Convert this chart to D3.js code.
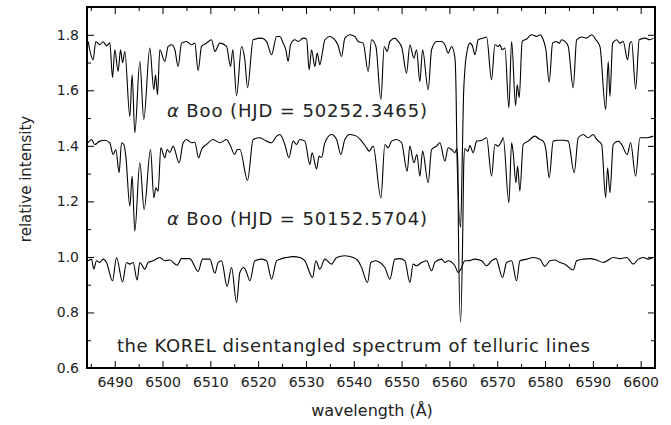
<!DOCTYPE html>
<html>
<head>
<meta charset="utf-8">
<script src="https://cdn.jsdelivr.net/npm/d3@7"></script>
<style>
body{margin:0;background:#fff;}
text{font-family:"DejaVu Sans",sans-serif;fill:#222;}
</style>
</head>
<body>
<div id="chart"></div>
<script>
//DATA (wavelength in A, relative intensity)

//alpha Boo, HJD 50252.3465 (upper spectrum, shifted up)
var booSpectrum50252 = [
[6484.43,1.776],[6485.48,1.710],[6486.04,1.776],[6486.88,1.764],[6487.57,1.775],[6488.28,1.760],[6488.97,1.771],[6489.54,1.646],[6490.02,1.746],[6490.71,1.668],
[6491.21,1.746],[6491.63,1.699],[6492.11,1.740],[6493.16,1.506],[6493.64,1.656],[6494.20,1.447],[6495.25,1.704],[6496.08,1.495],[6497.34,1.752],[6498.18,1.602],
[6498.53,1.656],[6498.95,1.584],[6499.43,1.746],[6500.48,1.704],[6501.17,1.758],[6501.94,1.764],[6502.57,1.746],[6503.26,1.686],[6503.97,1.770],[6505.02,1.776],
[6506.06,1.764],[6506.75,1.770],[6507.44,1.671],[6508.16,1.758],[6509.20,1.770],[6510.25,1.782],[6510.94,1.740],[6511.98,1.770],[6513.39,1.758],[6514.22,1.686],
[6514.70,1.746],[6515.48,1.581],[6516.52,1.758],[6517.21,1.710],[6517.78,1.609],[6518.95,1.782],[6520.71,1.788],[6521.75,1.776],[6522.80,1.728],[6523.85,1.794],
[6524.54,1.794],[6525.23,1.770],[6525.79,1.746],[6526.27,1.704],[6526.77,1.764],[6527.67,1.782],[6528.36,1.776],[6529.41,1.788],[6530.12,1.785],[6530.67,1.674],
[6531.17,1.746],[6531.86,1.686],[6532.34,1.734],[6532.90,1.692],[6533.47,1.740],[6533.95,1.782],[6535.00,1.794],[6535.69,1.788],[6536.67,1.764],[6537.44,1.722],
[6538.13,1.788],[6539.18,1.800],[6540.23,1.794],[6540.92,1.776],[6541.96,1.770],[6543.01,1.668],[6543.72,1.782],[6544.62,1.758],[6545.67,1.567],[6546.36,1.758],
[6546.98,1.740],[6547.55,1.776],[6548.59,1.788],[6549.28,1.776],[6550.06,1.753],[6551.04,1.662],[6551.73,1.764],[6552.57,1.716],[6553.13,1.746],[6553.82,1.632],
[6554.39,1.746],[6555.56,1.602],[6556.27,1.746],[6557.32,1.776],[6558.36,1.776],[6559.05,1.764],[6559.74,1.734],[6560.46,1.758],[6561.15,1.717],[6561.42,1.567],
[6561.56,1.387],[6562.34,1.107],[6562.72,1.387],[6562.93,1.567],[6563.24,1.674],[6563.76,1.746],[6564.28,1.770],[6564.85,1.758],[6565.33,1.728],[6566.02,1.782],
[6567.07,1.788],[6567.78,1.792],[6568.82,1.638],[6569.51,1.764],[6570.20,1.758],[6570.56,1.764],[6571.04,1.746],[6571.61,1.752],[6572.44,1.537],[6573.01,1.776],
[6573.84,1.545],[6574.18,1.620],[6574.60,1.573],[6575.22,1.776],[6576.15,1.785],[6577.19,1.800],[6578.24,1.794],[6578.93,1.800],[6579.62,1.782],[6580.18,1.746],
[6580.87,1.629],[6581.58,1.770],[6582.28,1.776],[6582.97,1.770],[6583.47,1.782],[6584.16,1.776],[6584.85,1.758],[6585.89,1.609],[6586.61,1.782],[6587.65,1.792],
[6588.70,1.788],[6589.74,1.800],[6590.64,1.782],[6591.48,1.758],[6592.67,1.531],[6593.22,1.704],[6593.57,1.578],[6594.14,1.770],[6594.97,1.782],[6595.66,1.770],
[6596.35,1.776],[6597.27,1.710],[6597.76,1.770],[6598.11,1.776],[6598.95,1.605],[6599.70,1.782],[6600.89,1.788],[6601.94,1.782],[6602.63,1.788]
];

//alpha Boo, HJD 50152.5704 (middle spectrum)
var booSpectrum50152 = [
[6484.43,1.411],[6485.14,1.423],[6485.83,1.405],[6486.88,1.417],[6487.93,1.420],[6488.97,1.411],[6489.66,1.369],[6490.23,1.387],[6490.92,1.303],[6491.42,1.411],
[6491.90,1.405],[6492.32,1.363],[6493.16,1.183],[6493.64,1.291],[6494.20,1.093],[6495.25,1.339],[6496.15,1.171],[6497.49,1.387],[6498.18,1.213],[6498.60,1.249],
[6499.08,1.237],[6499.64,1.393],[6500.48,1.357],[6500.96,1.387],[6501.52,1.376],[6502.21,1.399],[6503.47,1.339],[6504.31,1.411],[6505.02,1.423],[6506.06,1.411],
[6506.75,1.413],[6507.53,1.357],[6508.16,1.387],[6509.20,1.405],[6510.58,1.423],[6511.98,1.411],[6513.39,1.423],[6514.08,1.405],[6515.12,1.369],[6515.60,1.387],
[6516.17,1.387],[6517.78,1.276],[6518.95,1.423],[6520.35,1.429],[6521.75,1.417],[6522.80,1.411],[6523.85,1.435],[6524.54,1.441],[6525.58,1.405],[6526.42,1.357],
[6527.32,1.417],[6528.03,1.405],[6528.72,1.423],[6529.77,1.417],[6530.81,1.333],[6531.29,1.375],[6532.21,1.317],[6532.76,1.363],[6533.26,1.358],[6533.95,1.411],
[6535.35,1.441],[6536.40,1.423],[6537.30,1.369],[6538.13,1.423],[6539.18,1.441],[6540.58,1.435],[6541.63,1.417],[6542.67,1.393],[6543.22,1.381],[6544.05,1.399],
[6545.67,1.213],[6546.50,1.405],[6547.19,1.393],[6547.90,1.417],[6548.95,1.423],[6550.00,1.411],[6551.17,1.309],[6551.73,1.399],[6552.57,1.339],[6553.20,1.369],
[6553.82,1.291],[6554.39,1.381],[6555.56,1.267],[6556.27,1.387],[6557.32,1.399],[6558.01,1.411],[6559.05,1.345],[6559.74,1.393],[6560.46,1.387],[6561.15,1.375],
[6561.56,1.390],[6561.77,1.330],[6561.88,1.100],[6562.34,0.765],[6562.80,1.100],[6562.99,1.330],[6563.24,1.390],[6563.87,1.380],[6564.28,1.401],[6564.97,1.375],
[6565.69,1.417],[6566.73,1.420],[6567.78,1.429],[6568.82,1.291],[6569.51,1.405],[6570.20,1.399],[6570.92,1.417],[6571.25,1.429],[6572.44,1.195],[6573.01,1.411],
[6573.34,1.375],[6573.91,1.267],[6574.26,1.327],[6574.74,1.237],[6575.43,1.405],[6576.48,1.417],[6577.88,1.435],[6578.93,1.423],[6579.62,1.417],[6580.18,1.387],
[6580.87,1.285],[6581.71,1.417],[6582.76,1.420],[6583.80,1.420],[6584.85,1.417],[6586.10,1.303],[6586.94,1.429],[6587.99,1.441],[6589.03,1.429],[6590.08,1.441],
[6590.79,1.423],[6591.84,1.405],[6592.67,1.213],[6593.09,1.321],[6593.57,1.231],[6594.26,1.405],[6595.31,1.417],[6596.02,1.405],[6597.19,1.369],[6597.90,1.411],
[6598.95,1.291],[6599.85,1.429],[6601.25,1.429],[6602.63,1.435]
];

//KOREL disentangled telluric spectrum (lower)
var tellurics = [
[6484.43,0.986],[6485.14,0.992],[6485.62,0.956],[6486.19,0.986],[6486.88,0.980],[6487.57,0.992],[6488.28,0.980],[6489.54,0.914],[6490.37,0.998],[6491.63,0.910],
[6492.47,0.980],[6493.16,0.974],[6493.85,0.980],[6494.68,0.917],[6495.25,0.980],[6496.29,0.956],[6496.98,0.980],[6498.03,0.986],[6499.43,0.998],[6500.48,0.986],
[6501.52,0.989],[6503.05,0.970],[6503.97,0.994],[6505.71,0.994],[6507.44,0.948],[6508.36,0.992],[6509.89,0.992],[6510.94,0.941],[6511.63,0.980],[6512.34,0.986],
[6513.51,0.894],[6514.43,0.962],[6515.48,0.836],[6516.17,0.944],[6517.00,0.962],[6517.57,0.944],[6518.26,0.914],[6519.31,0.986],[6520.71,0.992],[6521.75,0.986],
[6522.80,0.920],[6523.85,0.986],[6524.54,0.992],[6525.94,0.998],[6527.32,1.001],[6528.72,0.998],[6529.77,0.986],[6531.38,0.926],[6532.07,0.986],[6532.90,0.956],
[6533.95,0.992],[6535.35,0.974],[6536.40,0.998],[6538.13,1.004],[6539.87,0.998],[6540.92,0.986],[6541.63,0.962],[6542.88,0.908],[6543.57,0.980],[6544.62,0.986],
[6545.46,0.980],[6546.50,0.962],[6547.55,0.920],[6548.59,0.992],[6549.64,0.994],[6550.69,0.986],[6551.73,0.908],[6552.42,0.974],[6553.13,0.968],[6554.18,0.980],
[6555.23,0.986],[6556.27,0.950],[6556.96,0.980],[6558.36,0.992],[6559.05,0.980],[6559.74,0.986],[6561.15,0.968],[6561.84,0.944],[6562.40,0.956],[6563.24,0.986],
[6563.93,0.986],[6565.33,0.992],[6566.73,0.986],[6567.78,0.968],[6568.82,0.986],[6569.72,0.994],[6571.12,0.926],[6571.96,0.980],[6573.01,0.986],[6574.05,0.914],
[6574.74,0.986],[6576.15,0.992],[6577.53,0.998],[6578.93,0.992],[6579.97,0.966],[6581.02,0.986],[6582.07,0.989],[6583.11,0.980],[6584.16,0.974],[6585.89,0.953],
[6586.61,0.986],[6587.99,0.992],[6589.39,0.994],[6590.79,0.989],[6592.17,0.980],[6593.22,0.989],[6594.26,0.998],[6595.66,0.994],[6597.07,0.998],[6598.45,0.974],
[6599.49,0.992],[6600.54,0.998],[6601.58,0.992],[6602.63,0.998]
];

var xTickLabels = [6490,6500,6510,6520,6530,6540,6550,6560,6570,6580,6590,6600];
var xMinorTicks = [6485,6495,6505,6515,6525,6535,6545,6555,6565,6575,6585,6595];
var yTickLabels = [0.6,0.8,1.0,1.2,1.4,1.6,1.8];
var yMinorTicks = [0.7,0.9,1.1,1.3,1.5,1.7];

var spectrumNames = ['Boo (HJD = 50252.3465)','Boo (HJD = 50152.5704)','the KOREL disentangled spectrum of telluric lines'];

//LAYOUT
var width = 671, height = 425;
var margin = {left:87, right:16, top:7, bottom:57};

var svg = d3.select('#chart').append('svg')
.attr('width', width)
.attr('height', height);

var x = d3.scaleLinear()
.domain([6484.2, 6603.0])
.range([margin.left, width - margin.right]);

var y = d3.scaleLinear()
.domain([0.6, 1.9])
.range([height - margin.bottom, margin.top]);

var line = d3.line()
.curve(d3.curveMonotoneX)
.x(function(d){ return x(d[0]); })
.y(function(d){ return y(d[1]); });

//spectra
[booSpectrum50252, booSpectrum50152, tellurics].forEach(function(s){
	svg.append('path')
	.datum(s)
	.attr('d', line)
	.attr('fill', 'none')
	.attr('stroke', '#000')
	.attr('stroke-width', 1.1)
	.attr('stroke-linejoin', 'round');
});

//AXES, all ticks point inwards
function drawAxis(axis, tx, ty, showLabels){
	var g = svg.append('g')
	.attr('transform', 'translate(' + tx + ',' + ty + ')')
	.call(axis);
	g.select('.domain').remove();
	g.selectAll('line').attr('stroke', '#000');
	if(!showLabels){ g.selectAll('text').remove(); }
	g.selectAll('text').style('font-size', '14px').attr('fill', '#222');
	return g;
}

var bottom = height - margin.bottom, right = width - margin.right;

drawAxis(d3.axisBottom(x).tickValues(xTickLabels).tickSize(-7).tickPadding(9).tickFormat(d3.format('d')), 0, bottom, true);
drawAxis(d3.axisBottom(x).tickValues(xMinorTicks).tickSize(-4), 0, bottom, false);
drawAxis(d3.axisTop(x).tickValues(xTickLabels).tickSize(-7), 0, margin.top, false);
drawAxis(d3.axisTop(x).tickValues(xMinorTicks).tickSize(-4), 0, margin.top, false);

drawAxis(d3.axisLeft(y).tickValues(yTickLabels).tickSize(-7).tickPadding(8).tickFormat(d3.format('.1f')), margin.left, 0, true);
drawAxis(d3.axisLeft(y).tickValues(yMinorTicks).tickSize(-4), margin.left, 0, false);
drawAxis(d3.axisRight(y).tickValues(yTickLabels).tickSize(-7), right, 0, false);
drawAxis(d3.axisRight(y).tickValues(yMinorTicks).tickSize(-4), right, 0, false);

//frame
svg.append('rect')
.attr('x', margin.left)
.attr('y', margin.top)
.attr('width', right - margin.left)
.attr('height', bottom - margin.top)
.attr('fill', 'none')
.attr('stroke', '#000')
.attr('stroke-width', 2);

//axis titles
svg.append('text')
.attr('x', 372)
.attr('y', 416)
.attr('text-anchor', 'middle')
.style('font-size', '16px')
.text('wavelength (\u00c5)');

svg.append('text')
.attr('transform', 'translate(31,179) rotate(-90)')
.attr('text-anchor', 'middle')
.style('font-size', '15px')
.text('relative intensity');

//spectrum labels
var labelPos = [[167,117,260],[167,225,260],[117,352,473]];
labelPos.forEach(function(p, i){
	var t = svg.append('text')
	.attr('x', p[0])
	.attr('y', p[1])
	.attr('textLength', p[2])
	.attr('lengthAdjust', 'spacing')
	.style('font-size', '18px');
	if(i < 2){
		t.append('tspan').style('font-style', 'italic').text('\u03b1 ');
	}
	t.append('tspan').text(spectrumNames[i]);
});
</script>
</body>
</html>
